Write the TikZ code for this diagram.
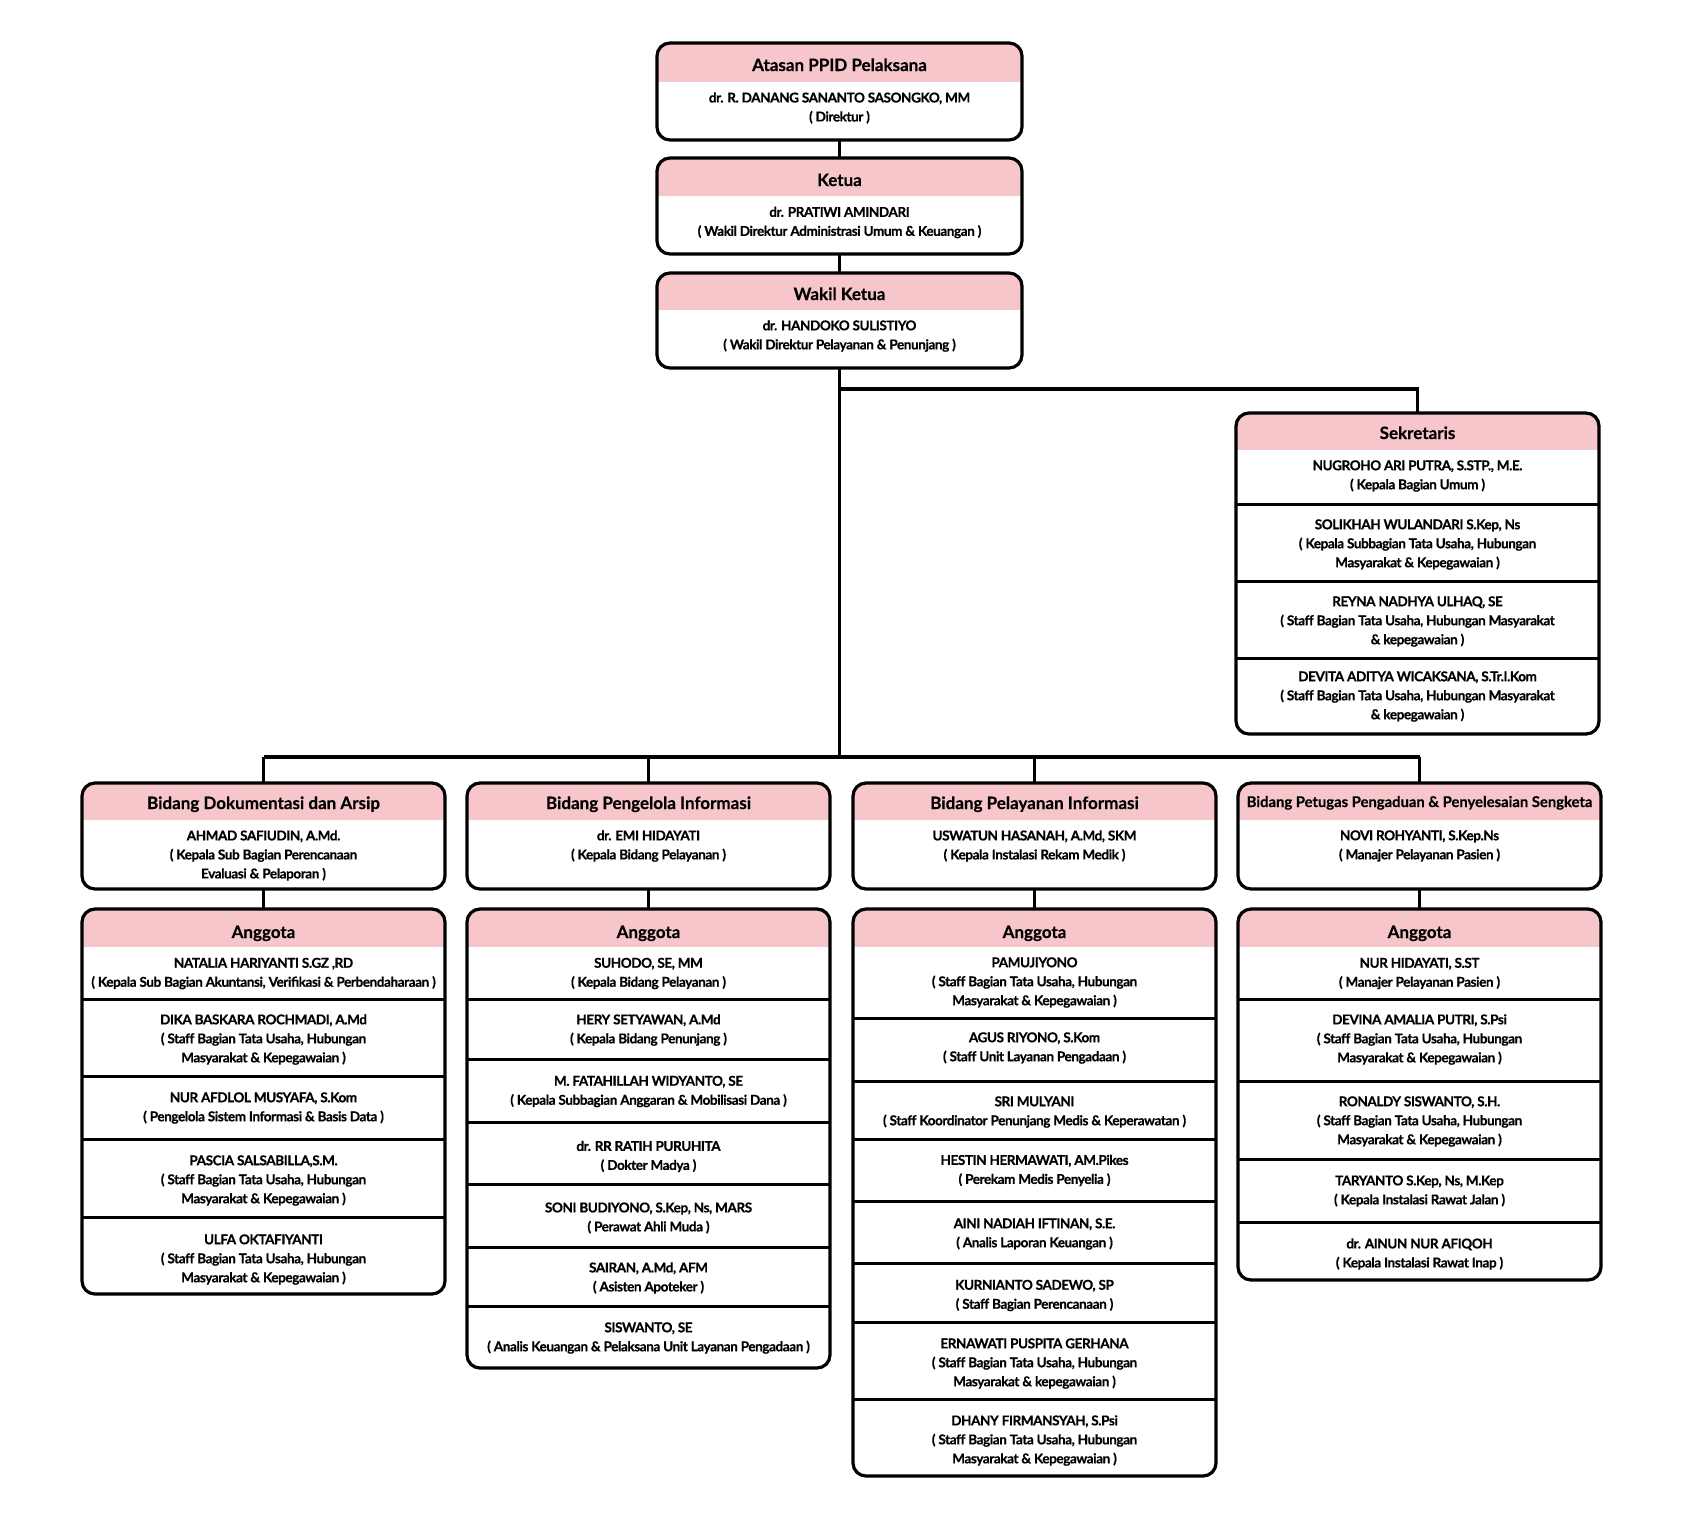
\documentclass[tikz,border=0pt]{standalone}
\usepackage{fontspec}
\setmainfont{Lato}[BoldFeatures={FakeBold=0.4}]
\newfontfamily\bodyfam{Lato}[LetterSpace=-3, BoldFeatures={FakeBold=0.6}]
\usetikzlibrary{calc}
\definecolor{hdr}{HTML}{F7C6CA}
\tikzset{
  orgframe/.style={draw=black, line width=3.2pt, rounded corners=13pt, inner sep=0pt, outer sep=0pt},
  divline/.style={draw=black, line width=3pt},
  conn/.style={draw=black, line width=3.4pt},
  ttl/.style={font=\fontsize{17}{19}\selectfont\bfseries, inner sep=0pt, anchor=base},
  ttlsmall/.style={font=\fontsize{14.8}{19}\selectfont\bfseries, inner sep=0pt, anchor=base},
  body/.style={font=\bodyfam\fontsize{13.5}{19}\selectfont\bfseries, align=center, inner sep=0pt}
}
\newcommand\OrgBox[6]{%
  \begin{scope}
    \clip[rounded corners=13pt] (#2,#3) rectangle (#4,#5);
    \fill[hdr] (#2,#3) rectangle (#4,#6);
  \end{scope}
  \node[orgframe, anchor=north west, minimum width={(#4)-(#2)}, minimum height={(#5)-(#3)}] (#1) at (#2,#3) {};
}
\newcommand\Divs[3]{%
  \foreach \yy in {#3} {\draw[divline] (#1,\yy) -- (#2,\yy);}
}
\begin{document}
\begin{tikzpicture}[x=1pt,y=-1pt]
\useasboundingbox[fill=white] (0,0) rectangle (1685,1524);

% ---------- top chain ----------
\OrgBox{atasan}{657}{43}{1022}{140}{82}
\node[ttl] (atasanT) at (839.5,71) {Atasan PPID Pelaksana};
\node[body] (atasanB) at (839.5,108) {dr. R. DANANG SANANTO SASONGKO, MM\\( Direktur )};

\OrgBox{ketua}{657}{158}{1022}{254}{196}
\node[ttl] (ketuaT) at (839.5,186) {Ketua};
\node[body] (ketuaB) at (839.5,222.5) {dr. PRATIWI AMINDARI\\( Wakil Direktur Administrasi Umum \& Keuangan )};

\OrgBox{wakil}{657}{273}{1022}{368}{310}
\node[ttl] (wakilT) at (839.5,300) {Wakil Ketua};
\node[body] (wakilB) at (839.5,336) {dr. HANDOKO SULISTIYO\\( Wakil Direktur Pelayanan \& Penunjang )};

% ---------- Sekretaris ----------
\OrgBox{sek}{1236}{413}{1599}{734}{450}
\node[ttl] (sekT) at (1417.5,439) {Sekretaris};
\Divs{1236}{1599}{504,581,658}
\node[body] (sek1) at (1417.5,476) {NUGROHO ARI PUTRA, S.STP., M.E.\\( Kepala Bagian Umum )};
\node[body] (sek2) at (1417.5,544.5) {SOLIKHAH WULANDARI S.Kep, Ns\\( Kepala Subbagian Tata Usaha, Hubungan\\Masyarakat \& Kepegawaian )};
\node[body] (sek3) at (1417.5,621.5) {REYNA NADHYA ULHAQ, SE\\( Staff Bagian Tata Usaha, Hubungan Masyarakat\\\& kepegawaian )};
\node[body] (sek4) at (1417.5,696.5) {DEVITA ADITYA WICAKSANA, S.Tr.I.Kom\\( Staff Bagian Tata Usaha, Hubungan Masyarakat\\\& kepegawaian )};

% ---------- Bidang boxes ----------
\OrgBox{b1}{82}{783}{445}{889}{820}
\node[ttl] (b1T) at (263.5,809) {Bidang Dokumentasi dan Arsip};
\node[body] (b1B) at (263.5,855.5) {AHMAD SAFIUDIN, A.Md.\\( Kepala Sub Bagian Perencanaan\\Evaluasi \& Pelaporan )};

\OrgBox{b2}{467}{783}{830}{889}{820}
\node[ttl] (b2T) at (648.5,809) {Bidang Pengelola Informasi};
\node[body] (b2B) at (648.5,846) {dr. EMI HIDAYATI\\( Kepala Bidang Pelayanan )};

\OrgBox{b3}{853}{783}{1216}{889}{820}
\node[ttl] (b3T) at (1034.5,809) {Bidang Pelayanan Informasi};
\node[body] (b3B) at (1034.5,846) {USWATUN HASANAH, A.Md, SKM\\( Kepala Instalasi Rekam Medik )};

\OrgBox{b4}{1238}{783}{1601}{889}{820}
\node[ttlsmall] (b4T) at (1419.5,807) {Bidang Petugas Pengaduan \& Penyelesaian Sengketa};
\node[body] (b4B) at (1419.5,846) {NOVI ROHYANTI, S.Kep.Ns\\( Manajer Pelayanan Pasien )};

% ---------- Anggota 1 ----------
\OrgBox{a1}{82}{909}{445}{1294}{947}
\node[ttl] (a1T) at (263.5,938) {Anggota};
\Divs{82}{445}{999,1076,1139,1217}
\node[body] (a1r1) at (263.5,973.5) {NATALIA HARIYANTI S.GZ ,RD\\( Kepala Sub Bagian Akuntansi, Verifikasi \& Perbendaharaan )};
\node[body] (a1r2) at (263.5,1039.5) {DIKA BASKARA ROCHMADI, A.Md\\( Staff Bagian Tata Usaha, Hubungan\\Masyarakat \& Kepegawaian )};
\node[body] (a1r3) at (263.5,1108) {NUR AFDLOL MUSYAFA, S.Kom\\( Pengelola Sistem Informasi \& Basis Data )};
\node[body] (a1r4) at (263.5,1180.5) {PASCIA SALSABILLA,S.M.\\( Staff Bagian Tata Usaha, Hubungan\\Masyarakat \& Kepegawaian )};
\node[body] (a1r5) at (263.5,1259.5) {ULFA OKTAFIYANTI\\( Staff Bagian Tata Usaha, Hubungan\\Masyarakat \& Kepegawaian )};

% ---------- Anggota 2 ----------
\OrgBox{a2}{467}{909}{830}{1368}{947}
\node[ttl] (a2T) at (648.5,938) {Anggota};
\Divs{467}{830}{999,1059,1122,1184,1247,1306}
\node[body] (a2r1) at (648.5,973.5) {SUHODO, SE, MM\\( Kepala Bidang Pelayanan )};
\node[body] (a2r2) at (648.5,1030) {HERY SETYAWAN, A.Md\\( Kepala Bidang Penunjang )};
\node[body] (a2r3) at (648.5,1091.5) {M. FATAHILLAH WIDYANTO, SE\\( Kepala Subbagian Anggaran \& Mobilisasi Dana )};
\node[body] (a2r4) at (648.5,1156.5) {dr. RR RATIH PURUHITA\\( Dokter Madya )};
\node[body] (a2r5) at (648.5,1218) {SONI BUDIYONO, S.Kep, Ns, MARS\\( Perawat Ahli Muda )};
\node[body] (a2r6) at (648.5,1278) {SAIRAN, A.Md, AFM\\( Asisten Apoteker )};
\node[body] (a2r7) at (648.5,1338) {SISWANTO, SE\\( Analis Keuangan \& Pelaksana Unit Layanan Pengadaan )};

% ---------- Anggota 3 ----------
\OrgBox{a3}{853}{909}{1216}{1476}{947}
\node[ttl] (a3T) at (1034.5,938) {Anggota};
\Divs{853}{1216}{1018,1081,1139,1201,1263,1322,1399}
\node[body] (a3r1) at (1034.5,982.5) {PAMUJIYONO\\( Staff Bagian Tata Usaha, Hubungan\\Masyarakat \& Kepegawaian )};
\node[body] (a3r2) at (1034.5,1048) {AGUS RIYONO, S.Kom\\( Staff Unit Layanan Pengadaan )};
\node[body] (a3r3) at (1034.5,1112) {SRI MULYANI\\( Staff Koordinator Penunjang Medis \& Keperawatan )};
\node[body] (a3r4) at (1034.5,1170.5) {HESTIN HERMAWATI, AM.Pikes\\( Perekam Medis Penyelia )};
\node[body] (a3r5) at (1034.5,1234) {AINI NADIAH IFTINAN, S.E.\\( Analis Laporan Keuangan )};
\node[body] (a3r6) at (1034.5,1295.5) {KURNIANTO SADEWO, SP\\( Staff Bagian Perencanaan )};
\node[body] (a3r7) at (1034.5,1363.5) {ERNAWATI PUSPITA GERHANA\\( Staff Bagian Tata Usaha, Hubungan\\Masyarakat \& kepegawaian )};
\node[body] (a3r8) at (1034.5,1440.5) {DHANY FIRMANSYAH, S.Psi\\( Staff Bagian Tata Usaha, Hubungan\\Masyarakat \& Kepegawaian )};

% ---------- Anggota 4 ----------
\OrgBox{a4}{1238}{909}{1601}{1280}{947}
\node[ttl] (a4T) at (1419.5,938) {Anggota};
\Divs{1238}{1601}{999,1081,1159,1222}
\node[body] (a4r1) at (1419.5,973.5) {NUR HIDAYATI, S.ST\\( Manajer Pelayanan Pasien )};
\node[body] (a4r2) at (1419.5,1039.5) {DEVINA AMALIA PUTRI, S.Psi\\( Staff Bagian Tata Usaha, Hubungan\\Masyarakat \& Kepegawaian )};
\node[body] (a4r3) at (1419.5,1121.5) {RONALDY SISWANTO, S.H.\\( Staff Bagian Tata Usaha, Hubungan\\Masyarakat \& Kepegawaian )};
\node[body] (a4r4) at (1419.5,1191) {TARYANTO S.Kep, Ns, M.Kep\\( Kepala Instalasi Rawat Jalan )};
\node[body] (a4r5) at (1419.5,1254) {dr. AINUN NUR AFIQOH\\( Kepala Instalasi Rawat Inap )};

% ---------- connectors ----------
\coordinate (jSek) at (839.5,389);
\coordinate (jBar) at (839.5,757);
\draw[conn] (atasan.south) -- (ketua.north);
\draw[conn] (ketua.south) -- (wakil.north);
\draw[conn] (wakil.south) -- (jBar);
\draw[conn] (jSek) -| (sek.north);
\draw[conn] (b1.north |- jBar) -- (b4.north |- jBar);
\foreach \i in {1,2,3,4} {
  \draw[conn] (b\i.north) -- (b\i.north |- jBar);
  \draw[conn] (b\i.south) -- (a\i.north);
}
\end{tikzpicture}
\end{document}
